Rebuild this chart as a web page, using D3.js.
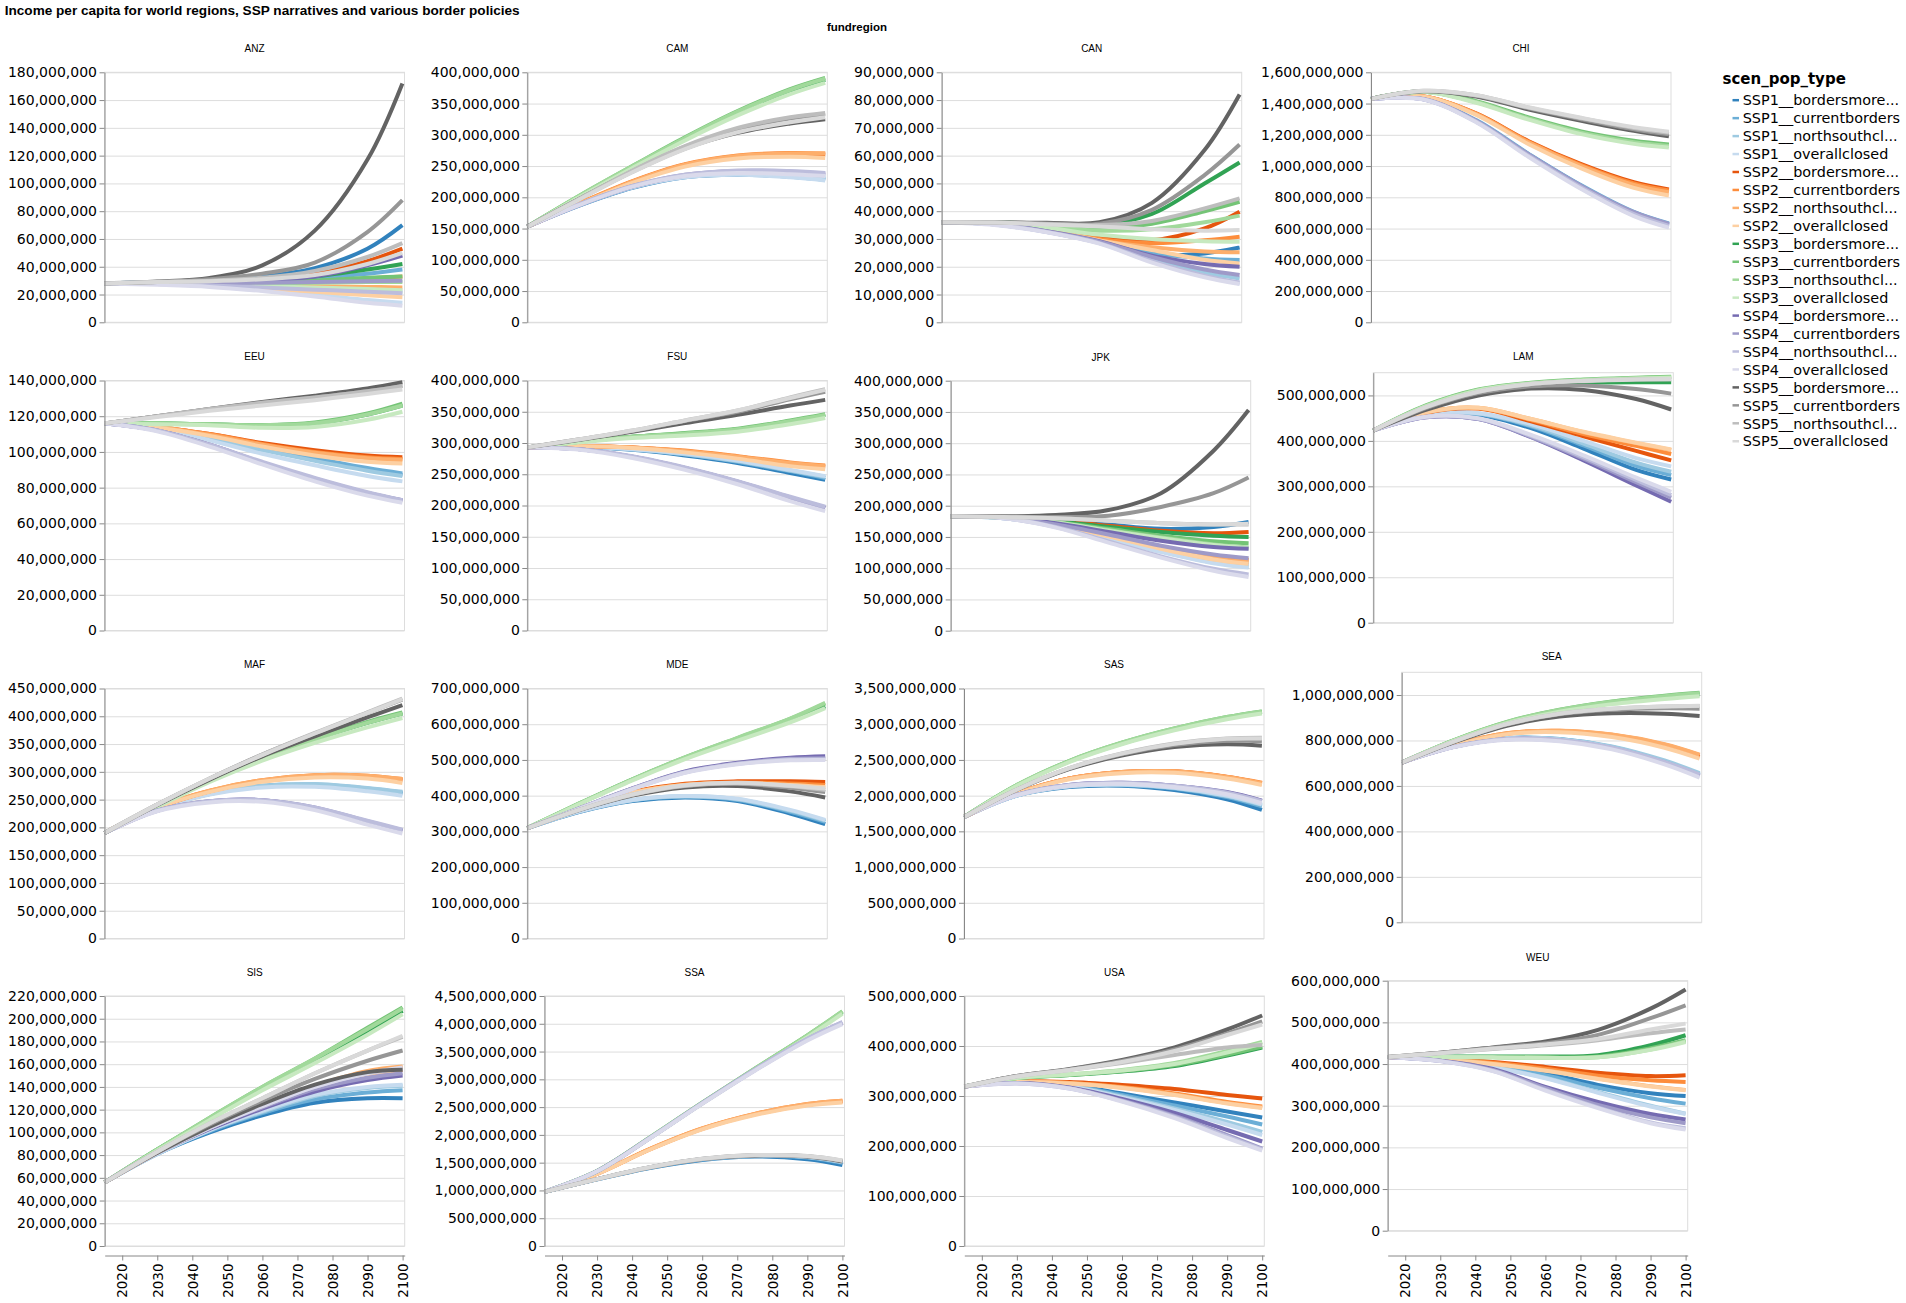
<!DOCTYPE html>
<html><head><meta charset="utf-8">
<script src="https://cdn.jsdelivr.net/npm/d3@7"></script>
<style>
body{margin:0;background:#fff}
.ax text{font-family:"DejaVu Sans",Verdana,sans-serif;fill:#000}
.ax path,.ax line{stroke:#888}
.grid line{stroke:#ddd}
.grid path{display:none}
</style>
</head><body><svg id="c" width="1906" height="1303"></svg>
<script>
// ---------- data (values in millions) ----------
const years = [2015, 2030, 2045, 2060, 2075, 2090, 2100];
const xTicks = [2020, 2030, 2040, 2050, 2060, 2070, 2080, 2090, 2100];
const scenarioLabels = [
  "SSP1__bordersmore...", "SSP1__currentborders", "SSP1__northsouthcl...", "SSP1__overallclosed",
  "SSP2__bordersmore...", "SSP2__currentborders", "SSP2__northsouthcl...", "SSP2__overallclosed",
  "SSP3__bordersmore...", "SSP3__currentborders", "SSP3__northsouthcl...", "SSP3__overallclosed",
  "SSP4__bordersmore...", "SSP4__currentborders", "SSP4__northsouthcl...", "SSP4__overallclosed",
  "SSP5__bordersmore...", "SSP5__currentborders", "SSP5__northsouthcl...", "SSP5__overallclosed"];
const scenarioColors = [
  "#3182bd","#6baed6","#9ecae1","#c6dbef",
  "#e6550d","#fd8d3c","#fdae6b","#fdd0a2",
  "#31a354","#74c476","#a1d99b","#c7e9c0",
  "#756bb1","#9e9ac8","#bcbddc","#dadaeb",
  "#636363","#969696","#bdbdbd","#d9d9d9"];
const regions = ["ANZ","CAM","CAN","CHI","EEU","FSU","JPK","LAM","MAF","MDE","SAS","SEA","SIS","SSA","USA","WEU"];

const ANZ = [
 [28,29,30,33,39,53,70],[28,28.5,29,30,32,35,38],[28,28,27,25.5,24,22.5,22],[28,27.5,26,23,20,16,14],
 [28,28.5,29,31,35,44,53],[28,28,28,28.5,29.5,31.5,33],[28,28,27.5,27,26,25.5,25],[28,27.5,26.5,24.5,22,19.5,18],
 [28,28.5,29,30.5,33,38,42],[28,28,28.5,29,30,32,33],[28,28,28,28,28.5,29,29],[28,28,27,26,25,24,23],
 [28,28.5,29,30,33,41,48],[28,28,28,28.5,29,29.5,30],[28,27.5,26.5,25,23.5,22,21],[28,27,25.5,22.5,18.5,14,12],
 [28,29.3,32,41,66,117,172],[28,29,31,35,43,65,88],[28,29,30,32,37,47,57],[28,29,29.5,31,34,42,50]];
const CAM = [
 [153,187,215,232,236,233,228],[153,188,216,233,237,234,230],[153,188,216,234,238,235,232],[153,188,216,232,236,232,227],
 [153,190,225,252,265,269,268],[153,191,226,253,267,271,270],[153,190,225,252,266,270,270],[153,189,223,249,262,265,263],
 [153,202,249,294,335,370,388],[153,203,250,296,338,373,391],[153,203,250,295,337,372,390],[153,201,247,291,331,365,383],
 [153,188,217,235,241,240,236],[153,189,218,236,242,241,238],[153,189,218,236,243,242,239],[153,188,217,234,239,237,234],
 [153,198,241,278,303,318,325],[153,198,242,281,309,326,333],[153,198,243,282,311,328,335],[153,197,240,277,304,320,328]];
const CAN = [
 [36,35.5,33.2,29.5,24.5,24.8,26.9],[36,35.5,33,29.5,25,23,22.4],[36,35.3,32.6,28.7,22.5,17.8,15.8],[36,35.2,32.5,28.5,21.8,16.5,14],
 [36,35.8,34,31,29.6,33.8,39.8],[36,35.7,33.5,30,28.5,29.5,30.8],[36,35.5,33,29.5,27,25.5,25.2],[36,35.5,33,29.5,26,22.5,21.2],
 [36,36,35.3,35,39,50,57.5],[36,36,35,34,35.5,40,43.4],[36,35.8,34.5,33,33.5,36,38.4],[36,35.7,34,31.5,30,29.2,29],
 [36,35.4,32.8,29.2,24,21,20],[36,35.3,32.7,29,23.5,19,17],[36,35.2,32.5,28.5,22,16.8,14.3],[36,35,32.4,28.3,21.5,16.2,13.8],
 [36,36,35.8,36,43,62,82],[36,36,35.6,35.5,40.5,53,64],[36,35.9,35.4,35,36.5,41,44.6],[36,35.9,35.2,34.5,33.5,33,33.2]];
const CHI = [
 [1430,1430,1290,1074,873,703,628],[1430,1432,1294,1078,877,707,633],[1430,1430,1287,1068,865,694,620],[1430,1428,1283,1062,857,685,611],
 [1430,1445,1337,1159,1012,896,850],[1430,1446,1336,1155,1006,889,843],[1430,1446,1333,1150,1000,880,832],[1430,1444,1328,1140,985,860,812],
 [1430,1475,1410,1305,1215,1155,1132],[1430,1478,1415,1311,1222,1162,1138],[1430,1476,1410,1304,1213,1152,1128],[1430,1474,1405,1297,1204,1142,1118],
 [1430,1427,1286,1068,866,697,622],[1430,1429,1290,1074,873,705,630],[1430,1428,1285,1065,862,692,617],[1430,1426,1280,1058,853,680,606],
 [1430,1478,1445,1362,1290,1225,1190],[1430,1480,1450,1370,1300,1236,1203],[1430,1482,1453,1374,1306,1244,1213],[1430,1482,1454,1376,1309,1249,1220]];
const EEU = [
 [116,113,108,102,96,90,87],[116,113,108,102,96.5,91,88],[116,113,107.5,101,95,89.5,86.5],[116,113,106.5,99,92.5,86.5,83.5],
 [116,114,110,105,101,98,97],[116,114,110,104.5,100,97,96],[116,114,109.5,104,99.5,96.5,95.5],[116,113.5,109,103,98,94.5,93.5],
 [116,116,115.5,115,116,121,126],[116,116,115.5,115,116.5,121.5,127],[116,116,115.5,115,116,121,126],[116,115.5,115,113.5,114,118,122.5],
 [116,112,104,94,85,77,73],[116,112,104,94,85,77,72.5],[116,112,104,94.5,85.5,77.5,73],[116,111.5,103,93,83.5,75.5,71.5],
 [116,120,124,128,131.5,135.5,139],[116,120,124,127.5,130.5,134,137],[116,120,124,127.5,130.5,134,137],[116,119.5,123,126,129,132.5,135]];
const FSU = [
 [293,294,289,280,268,252,241],[293,294,290,282,270,255,244],[293,294,290,282,271,256,246],[293,294,290,283,272,257,247],
 [293,295,293,287,278,267,262],[293,295,293,288,279,269,264],[293,295,293,287,278,268,263],[293,295,292,285,275,263,258],
 [293,302,310,315,322,335,345],[293,302,310,316,323,336,346],[293,302,310,315,322,335,345],[293,301,308,312,318,330,340],
 [293,290,278,260,238,212,196],[293,290,278,260,238,213,197],[293,290,279,261,239,214,198],[293,289,276,257,234,207,191],
 [293,305,318,332,345,360,369],[293,306,319,335,350,370,382],[293,306,320,336,352,373,386],[293,306,320,336,352,372,385]];
const JPK = [
 [183,182,178,170,163,166,174],[183,181,169,150,130,113,107],[183,180,168,148,127,109,102],[183,180,168,147,126,108,101],
 [183,182,177,168,160,156,158],[183,181,170,153,134,119,113],[183,181,170,152,133,116,110],[183,181,169,151,131,114,107],
 [183,181,175,166,158,152,150],[183,181,174,163,152,143,140],[183,181,173,161,149,138,133],[183,181,173,160,148,137,132],
 [183,181,172,158,144,134,131],[183,181,170,154,136,122,116],[183,180,166,143,119,99,90],[183,180,165,141,117,96,86],
 [183,183,185,193,220,288,353],[183,183,182,184,198,220,245],[183,182,180,176,172,170,170],[183,182,180,176,172,170,171]];
const LAM = [
 [423,458,457,428,383,336,315],[423,459,459,432,390,345,325],[423,459,460,434,394,352,332],[423,460,461,437,400,362,344],
 [423,462,471,443,410,378,357],[423,463,472,446,415,389,371],[423,463,473,448,419,395,380],[423,463,473,448,420,396,381],
 [423,476,510,525,528,529,529],[423,478,513,528,535,539,541],[423,477,512,527,534,538,540],[423,476,511,526,533,537,539],
 [423,452,448,408,357,302,266],[423,452,448,409,361,309,275],[423,453,449,411,364,314,281],[423,453,450,413,368,319,288],
 [423,468,500,515,512,492,469],[423,472,505,520,522,514,504],[423,474,508,525,532,535,535],[423,474,508,525,532,535,536]];
const MAF = [
 [190,234,260,274,276,269,261],[190,234,261,275,277,270,263],[190,234,261,275,278,271,264],[190,233,259,272,273,265,257],
 [190,235,265,284,293,292,285],[190,236,266,285,294,293,287],[190,236,266,285,294,293,287],[190,235,264,282,290,288,280],
 [190,238,284,324,358,388,405],[190,238,285,325,359,390,407],[190,238,284,324,358,388,405],[190,237,282,320,352,380,397],
 [190,230,247,249,235,210,194],[190,230,247,249,236,211,195],[190,230,247,249,236,212,196],[190,229,245,246,231,205,189],
 [190,240,286,328,364,398,420],[190,241,288,331,369,406,430],[190,241,288,331,370,407,432],[190,241,288,330,369,406,431]];
const MDE = [
 [309,355,385,395,385,350,320],[309,356,387,397,388,355,327],[309,356,387,398,390,358,330],[309,356,388,399,391,360,332],
 [309,365,410,433,440,440,438],[309,365,409,431,437,434,430],[309,364,408,430,434,428,420],[309,364,408,430,435,430,424],
 [309,378,445,505,558,610,650],[309,379,446,507,561,615,658],[309,379,446,507,562,616,660],[309,377,443,502,554,605,645],
 [309,365,420,468,492,506,510],[309,365,420,466,490,503,505],[309,365,419,465,489,501,502],[309,364,418,464,488,499,500],
 [309,360,400,423,427,412,395],[309,361,402,427,433,422,410],[309,361,403,428,435,426,416],[309,361,403,429,436,428,420]];
const SAS = [
 [1700,2000,2120,2140,2080,1950,1800],[1700,2000,2130,2150,2100,1980,1850],[1700,2000,2130,2155,2110,1995,1870],[1700,2000,2130,2155,2110,2000,1880],
 [1700,2030,2240,2330,2340,2260,2170],[1700,2030,2240,2330,2340,2265,2180],[1700,2030,2240,2330,2340,2262,2175],[1700,2025,2230,2315,2320,2240,2150],
 [1700,2140,2480,2730,2930,3090,3170],[1700,2145,2485,2740,2940,3100,3180],[1700,2145,2485,2740,2940,3100,3180],[1700,2135,2470,2720,2915,3070,3150],
 [1700,2010,2150,2180,2140,2050,1930],[1700,2010,2150,2180,2140,2045,1925],[1700,2010,2150,2178,2138,2040,1920],[1700,2005,2140,2165,2120,2020,1895],
 [1700,2080,2370,2560,2680,2720,2700],[1700,2082,2380,2580,2710,2770,2760],[1700,2085,2385,2590,2730,2800,2810],[1700,2085,2385,2588,2725,2795,2800]];
const SEA = [
 [703,775,810,805,770,705,648],[703,775,810,806,772,708,652],[703,775,811,807,774,712,656],[703,774,809,803,767,701,644],
 [703,780,830,840,820,775,728],[703,781,832,843,825,782,736],[703,781,832,843,826,784,738],[703,779,828,836,815,768,720],
 [703,800,878,930,965,990,1003],[703,802,882,935,972,997,1010],[703,802,881,934,970,995,1008],[703,799,876,927,960,983,995],
 [703,772,805,800,765,700,643],[703,772,806,801,767,703,647],[703,773,806,802,768,705,650],[703,771,803,797,761,695,637],
 [703,793,865,905,920,918,908],[703,795,870,915,935,942,940],[703,796,872,918,940,950,952],[703,796,872,918,940,950,953]];
const SIS = [
 [56,81,100,115,126,130,130],[56,81,101,117,129,135,137],[56,81,102,118,132,139,141],[56,81,102,119,133,140,142],
 [56,82,104,123,139,151,155],[56,82,105,124,141,153,157],[56,82,105,124,141,154,158],[56,82,104,123,139,151,155],
 [56,85,112,139,163,189,207],[56,85,113,140,165,192,210],[56,85,113,140,165,191,209],[56,84,111,137,161,186,204],
 [56,82,103,121,136,146,150],[56,82,104,122,138,148,152],[56,82,104,123,140,152,156],[56,82,104,123,140,152,157],
 [56,82,105,125,142,153,155],[56,83,107,128,147,163,172],[56,83,108,130,152,172,184],[56,83,108,130,152,172,185]];
const SSA = [
 [975,1200,1405,1550,1610,1560,1457],[975,1200,1410,1560,1622,1595,1500],[975,1200,1412,1563,1626,1603,1512],[975,1200,1413,1564,1628,1606,1516],
 [975,1300,1739,2109,2370,2543,2600],[975,1302,1743,2115,2378,2555,2615],[975,1302,1743,2115,2378,2555,2615],[975,1298,1733,2100,2357,2527,2585],
 [975,1348,1945,2575,3185,3780,4205],[975,1350,1950,2580,3192,3792,4222],[975,1350,1950,2580,3192,3792,4222],[975,1347,1940,2565,3170,3760,4180],
 [975,1345,1940,2568,3165,3715,4010],[975,1346,1942,2570,3172,3725,4025],[975,1346,1942,2571,3174,3728,4030],[975,1344,1935,2560,3155,3700,3995],
 [975,1203,1413,1565,1630,1609,1522],[975,1204,1415,1568,1634,1615,1532],[975,1204,1416,1569,1636,1618,1537],[975,1204,1416,1569,1636,1618,1538]];
const USA = [
 [319,328,322,305,287,269,257],[319,328,321,302,281,259,243],[319,327,320,299,275,248,228],[319,327,319,297,272,243,222],
 [319,329,328,322,314,302,295],[319,329,326,318,305,288,279],[319,329,326,317,303,286,277],[319,328,325,316,302,285,276],
 [319,336,342,349,360,381,397],[319,336,342,350,362,383,399],[319,336,343,352,366,390,408],[319,336,343,351,364,387,405],
 [319,326,317,294,266,232,209],[319,326,316,291,260,222,195],[319,325,315,290,258,219,193],[319,325,315,289,256,216,191],
 [319,340,354,372,397,433,461],[319,340,353,370,393,425,449],[319,339,352,366,382,397,402],[319,339,352,368,390,422,443]];
const WEU = [
 [417,410,398,378,350,330,323],[417,410,396,373,343,318,305],[417,409,393,367,333,300,281],[417,409,392,366,331,298,280],
 [417,412,405,393,379,371,373],[417,412,403,389,372,361,357],[417,411,401,385,365,347,338],[417,411,400,384,364,346,337],
 [417,418,418,418,421,445,469],[417,417,417,416,418,438,457],[417,417,416,415,416,435,455],[417,417,416,415,416,434,453],
 [417,408,388,345,309,280,267],[417,408,386,342,302,272,258],[417,407,384,338,296,260,246],[417,407,383,336,294,258,243],
 [417,427,440,454,482,533,579],[417,427,439,450,470,510,541],[417,426,436,445,457,474,483],[417,426,437,447,460,483,497]];

const regionValues = {ANZ, CAM, CAN, CHI, EEU, FSU, JPK, LAM, MAF, MDE, SAS, SEA, SIS, SSA, USA, WEU};

// ---------- layout (plot-area origin of each facet cell) ----------
const cellLayout = [
  ["ANZ",104.5,72.3],["CAM",527.3,72.3],["CAN",941.7,72.3],["CHI",1371,72.3],
  ["EEU",104.5,380.5],["FSU",527.3,380.5],["JPK",950.7,380.7],["LAM",1373.3,372.7],
  ["MAF",104.5,688.5],["MDE",527.3,688.5],["SAS",964,688.5],["SEA",1401.7,672.3],
  ["SIS",104.7,996],["SSA",544.5,996],["USA",964.3,996],["WEU",1387.7,980.7]];
const bottomRow = ["SIS","SSA","USA","WEU"];
const W = 300, H = 250, xAxisY = 1255.5;

const svg = d3.select("#c");
const fmtY = d => d3.format(",")(Math.round(d * 1e6));

svg.append("text").attr("x", 4.7).attr("y", 15)
  .style("font-family", "'Liberation Sans', Arial, sans-serif").style("font-weight", "bold").style("font-size", "13.6px")
  .text("Income per capita for world regions, SSP narratives and various border policies");
svg.append("text").attr("x", 857).attr("y", 30.7).attr("text-anchor", "middle")
  .style("font-family", "'Liberation Sans', Arial, sans-serif").style("font-weight", "bold").style("font-size", "11.5px")
  .text("fundregion");

const x = d3.scaleLinear().domain([2015, 2100.6]).range([0, W]);
const line = d3.line().x((d, i) => x(years[i])).y(d => d).curve(d3.curveCatmullRom.alpha(0.5));

cellLayout.forEach(([reg, px, py]) => {
  const vals = regionValues[reg];
  const yMax = d3.max(vals, s => d3.max(s));
  const y = d3.scaleLinear().domain([0, yMax]).nice().range([H, 0]);
  const ticks = y.ticks(7);
  const g = svg.append("g").attr("transform", `translate(${px},${py})`);

  g.append("g").attr("class", "grid")
    .call(d3.axisLeft(y).ticks(7).tickSize(-W).tickFormat(""));
  g.append("rect").attr("width", W).attr("height", H).attr("fill", "none").attr("stroke", "#ddd");

  vals.forEach((s, i) => {
    g.append("path").attr("d", line(s.map(v => y(v))))
      .attr("fill", "none").attr("stroke", scenarioColors[i]).attr("stroke-width", 4);
  });

  const ya = g.append("g").attr("class", "ax")
    .call(d3.axisLeft(y).ticks(7).tickSize(5).tickSizeOuter(0).tickPadding(2.5).tickFormat(fmtY));
  ya.selectAll("text").style("font-size", "14px");

  const overhang = ticks[ticks.length - 1] === y.domain()[1];
  g.append("text").attr("x", W / 2).attr("y", (overhang ? -23.7 : -16) + 3.6)
    .attr("text-anchor", "middle")
    .style("font-family", "'Liberation Sans', Arial, sans-serif").style("font-size", "10px")
    .text(reg);

  if (bottomRow.includes(reg)) {
    const xa = svg.append("g").attr("class", "ax").attr("transform", `translate(${px},${xAxisY})`)
      .call(d3.axisBottom(x).tickValues(xTicks).tickFormat(d3.format("d")).tickSize(5).tickSizeOuter(0));
    xa.selectAll("text").attr("transform", "rotate(-90)").attr("text-anchor", "end")
      .attr("x", -8).attr("y", 0).attr("dy", "0.35em").style("font-size", "13.5px");
  }
});

// legend
const lg = svg.append("g");
lg.append("text").attr("x", 1722.5).attr("y", 84)
  .style("font-family", "'DejaVu Sans', Verdana, sans-serif").style("font-weight", "bold").style("font-size", "15px")
  .text("scen_pop_type");
scenarioLabels.forEach((lab, i) => {
  const cy = 100.2 + i * 17.95;
  lg.append("line").attr("x1", 1732.5).attr("x2", 1739).attr("y1", cy).attr("y2", cy)
    .attr("stroke", scenarioColors[i]).attr("stroke-width", 2.5);
  lg.append("text").attr("x", 1742.7).attr("y", cy + 5.2)
    .style("font-family", "'DejaVu Sans', Verdana, sans-serif").style("font-size", "14.4px").style("fill", "#000")
    .text(lab);
});
</script>
</body></html>
